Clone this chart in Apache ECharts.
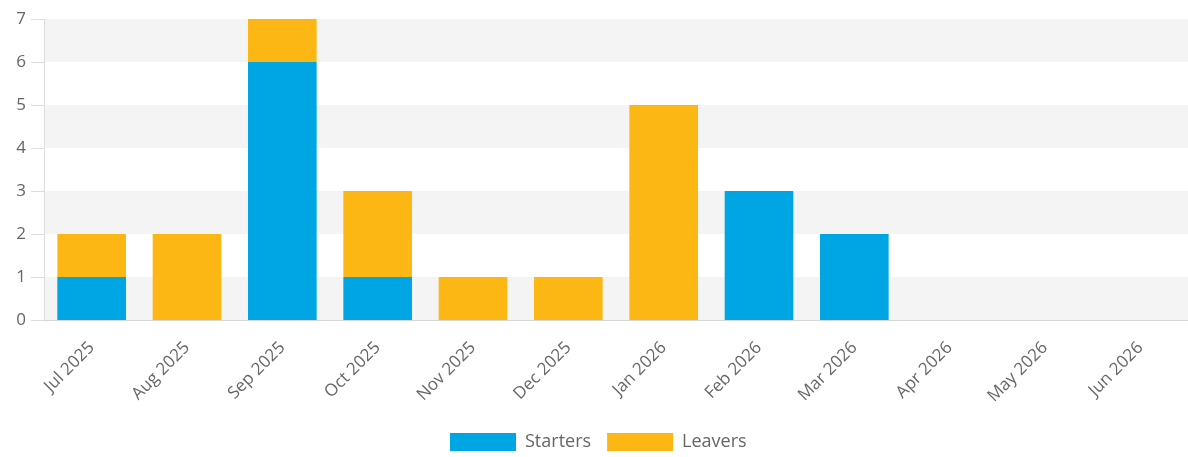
<!DOCTYPE html>
<html><head><meta charset="utf-8">
<script src="https://cdn.jsdelivr.net/npm/echarts@6/dist/echarts.min.js"></script>
<style>html,body{margin:0;padding:0;background:#fff}#c{width:1188px;height:457px}</style>
</head><body><div id="c"></div>
<script>
const categories = ['Jul 2025','Aug 2025','Sep 2025','Oct 2025','Nov 2025','Dec 2025','Jan 2026','Feb 2026','Mar 2026','Apr 2026','May 2026','Jun 2026'];
const starters = [1,0,6,1,0,0,0,3,2,0,0,0];
const leavers  = [1,2,1,2,1,1,5,0,0,0,0,0];
const yTicks = [0,1,2,3,4,5,6,7];

const chart = echarts.init(document.getElementById('c'), null, {renderer:'canvas'});
chart.setOption({
  animation:false,
  textStyle:{fontFamily:'Open Sans'},
  grid:{left:44,right:-3,top:19,bottom:137,containLabel:false},
  legend:{
    top:433, left:450, padding:0, itemWidth:66, itemHeight:18, itemGap:16,
    icon:'rect',
    textStyle:{color:'#666',fontSize:18,fontFamily:'Open Sans',padding:[0,0,0,4]},
    data:['Starters','Leavers']
  },
  xAxis:{
    type:'category', data:categories,
    axisLine:{lineStyle:{color:'#d6d6d6',width:1}},
    axisTick:{show:false},
    axisLabel:{rotate:45,color:'#666',fontSize:17,margin:25,interval:0}
  },
  yAxis:{
    type:'value', min:yTicks[0], max:yTicks[yTicks.length-1], interval:1,
    axisLine:{show:true,lineStyle:{color:'#dddddd'}},
    axisTick:{show:true,length:13,lineStyle:{color:'#dddddd'}},
    axisLabel:{color:'#666',fontSize:17,margin:18},
    splitLine:{show:false},
    splitArea:{show:true,areaStyle:{color:['#f4f4f4','#ffffff']}}
  },
  series:[
    {name:'Starters',type:'bar',stack:'a',data:starters,barWidth:'72%',itemStyle:{color:'#00a5e3'}},
    {name:'Leavers',type:'bar',stack:'a',data:leavers,barWidth:'72%',itemStyle:{color:'#fdb714'}}
  ]
});
</script></body></html>
